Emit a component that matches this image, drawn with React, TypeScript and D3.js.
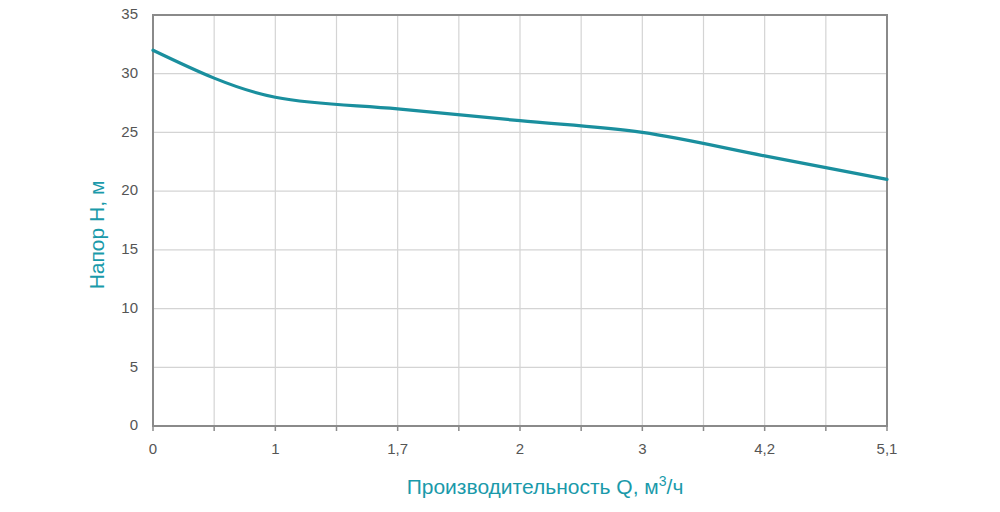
import React from "react";
import * as d3 from "d3";

const categories = ["0", "1", "1,7", "2", "3", "4,2", "5,1"];
const headValues = [32, 28, 27, 26, 25, 23, 21];
const yTicks = [0, 5, 10, 15, 20, 25, 30, 35];

const W = 1000;
const H = 512;
const left = 153;
const right = 887;
const top = 15;
const bottom = 426;

export default function App() {
  const x = d3.scaleLinear().domain([0, categories.length - 1]).range([left, right]);
  const y = d3.scaleLinear().domain([0, 35]).range([bottom, top]);
  const minorX = d3.range(0, categories.length - 1 + 0.001, 0.5);
  const line = d3
    .line<number>()
    .x((_, i) => x(i))
    .y((d) => y(d))
    .curve(d3.curveMonotoneX);
  const axisColor = "#8a8a8a";
  const gridColor = "#d4d4d4";
  const teal = "#1a8f9e";
  return (
    <svg
      width={W}
      height={H}
      style={{ position: "absolute", left: 0, top: 0, background: "#fff" }}
      fontFamily="'Liberation Sans', Arial, sans-serif"
    >
      {minorX.map((v) => (
        <line key={"gx" + v} x1={x(v)} x2={x(v)} y1={top} y2={bottom} stroke={gridColor} strokeWidth={1.2} />
      ))}
      {yTicks.map((v) => (
        <line key={"gy" + v} x1={left} x2={right} y1={y(v)} y2={y(v)} stroke={gridColor} strokeWidth={1.2} />
      ))}
      <rect x={left} y={top} width={right - left} height={bottom - top} fill="none" stroke={axisColor} strokeWidth={2} />
      {minorX.map((v) => (
        <line key={"tx" + v} x1={x(v)} x2={x(v)} y1={bottom} y2={bottom + 5} stroke={axisColor} strokeWidth={1.5} />
      ))}
      {yTicks.map((v) => (
        <text key={"ly" + v} x={138} y={y(v) - 1} dy="0.35em" textAnchor="end" fontSize={15} fill="#555">
          {v}
        </text>
      ))}
      {categories.map((c, i) => (
        <text key={"lx" + c} x={x(i)} y={454} textAnchor="middle" fontSize={15} fill="#555">
          {c}
        </text>
      ))}
      <path d={line(headValues) || ""} fill="none" stroke={teal} strokeWidth={3.2} strokeLinejoin="round" strokeLinecap="round" />
      <text
        transform={`translate(104,235) rotate(-90)`}
        textAnchor="middle"
        fontSize={21}
        fill="#1a9aaa"
      >
        Напор Н, м
      </text>
      <text x={545} y={494} textAnchor="middle" fontSize={21} fill="#1a9aaa">
        Производительность Q, м<tspan fontSize={14} dy={-8}>3</tspan>
        <tspan dy={8}>/ч</tspan>
      </text>
    </svg>
  );
}
